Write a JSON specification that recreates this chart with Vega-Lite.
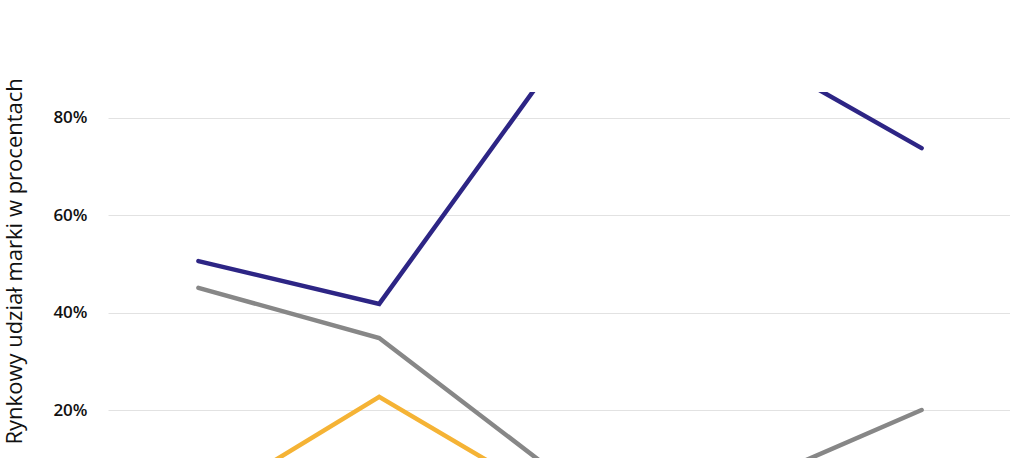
{
  "$schema": "https://vega.github.io/schema/vega-lite/v6.json",
  "autosize": "none",
  "padding": {"top": 92, "left": 108, "right": 0, "bottom": 0},
  "width": 904,
  "height": 366,
  "background": "#ffffff",
  "data": {
    "values": [
      {"okres": "1", "marka": "A", "udzial": 0.506},
      {"okres": "2", "marka": "A", "udzial": 0.418},
      {"okres": "3", "marka": "A", "udzial": 0.931},
      {"okres": "4", "marka": "A", "udzial": 0.949},
      {"okres": "5", "marka": "A", "udzial": 0.738},
      {"okres": "1", "marka": "B", "udzial": 0.451},
      {"okres": "2", "marka": "B", "udzial": 0.348},
      {"okres": "3", "marka": "B", "udzial": 0.064},
      {"okres": "4", "marka": "B", "udzial": 0.039},
      {"okres": "5", "marka": "B", "udzial": 0.2},
      {"okres": "1", "marka": "C", "udzial": 0.001},
      {"okres": "2", "marka": "C", "udzial": 0.227},
      {"okres": "3", "marka": "C", "udzial": 0.008},
      {"okres": "4", "marka": "C", "udzial": 0.02},
      {"okres": "5", "marka": "C", "udzial": 0.03}
    ]
  },
  "mark": {"type": "line", "strokeWidth": 4.5, "strokeCap": "round", "strokeJoin": "miter", "clip": true},
  "encoding": {
    "x": {
      "field": "okres",
      "type": "ordinal",
      "scale": {"type": "point", "padding": 0.5},
      "axis": null
    },
    "y": {
      "field": "udzial",
      "type": "quantitative",
      "scale": {"domain": [0.1014, 0.8534], "nice": false, "zero": false},
      "axis": {
        "values": [0.2, 0.4, 0.6, 0.8],
        "format": ".0%",
        "title": "Rynkowy udział marki w procentach",
        "titleFont": "Open Sans",
        "titleFontSize": 22,
        "titleFontWeight": "normal",
        "titleColor": "#111111",
        "titleAngle": 270,
        "titleAlign": "left",
        "titleBaseline": "top",
        "titleX": -104,
        "titleY": 352,
        "labelFont": "Open Sans",
        "labelFontSize": 17,
        "labelFontWeight": 600,
        "labelColor": "#111111",
        "labelPadding": 21,
        "ticks": false,
        "domain": false,
        "grid": true,
        "gridColor": "#e2e2e2",
        "gridWidth": 1
      }
    },
    "color": {
      "field": "marka",
      "type": "nominal",
      "scale": {"domain": ["A", "B", "C"], "range": ["#2d2585", "#878787", "#f5b335"]},
      "legend": null
    }
  },
  "config": {"view": {"stroke": null}}
}
